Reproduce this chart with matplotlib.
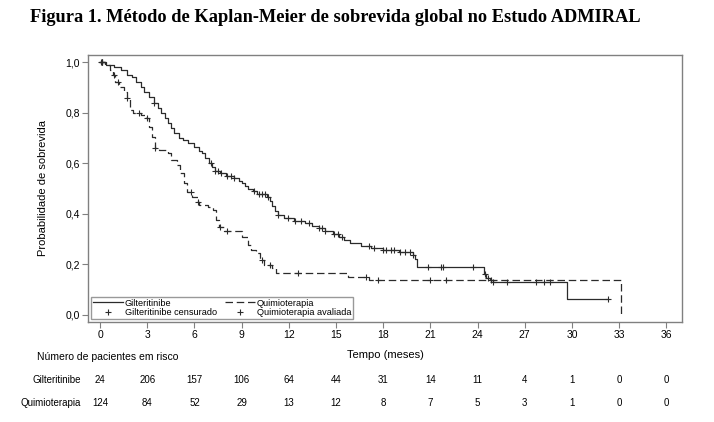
import numpy as np
import matplotlib
matplotlib.use("Agg")
import matplotlib.pyplot as plt
from matplotlib.lines import Line2D
from matplotlib.transforms import blended_transform_factory
from matplotlib.ticker import FuncFormatter

# Gilteritinibe: step times (months) and survival after each step
gilt_t = [0, 0.4, 0.9, 1.3, 1.7, 2.0, 2.3, 2.6, 2.8, 3.1, 3.4, 3.7, 3.9, 4.1, 4.3, 4.5,
          4.7, 5.0, 5.3, 5.6, 6.0, 6.3, 6.5, 6.7, 6.9, 7.1, 7.3, 7.6, 8.0, 8.5, 8.8, 9.0,
          9.2, 9.4, 9.7, 10.0, 10.6, 10.8, 10.95, 11.1, 11.3, 11.7, 12.3, 13.0, 13.5, 13.9,
          14.3, 14.8, 15.2, 15.5, 15.9, 16.6, 17.2, 18.0, 19.0, 19.9, 20.0, 20.15, 24.4,
          24.55, 24.8, 25.0, 29.7, 32.3]
gilt_s = [1.0, 0.99, 0.98, 0.97, 0.95, 0.94, 0.92, 0.90, 0.88, 0.86, 0.84, 0.82, 0.80, 0.78,
          0.76, 0.74, 0.72, 0.70, 0.69, 0.68, 0.665, 0.65, 0.64, 0.62, 0.60, 0.585, 0.57, 0.56,
          0.55, 0.54, 0.53, 0.52, 0.51, 0.50, 0.49, 0.48, 0.465, 0.45, 0.43, 0.41, 0.395, 0.383,
          0.372, 0.363, 0.352, 0.343, 0.332, 0.32, 0.31, 0.295, 0.283, 0.272, 0.265, 0.257,
          0.248, 0.238, 0.22, 0.19, 0.16, 0.145, 0.137, 0.132, 0.063, 0.063]
gilt_cens = [0.05, 0.1, 0.15, 3.4, 7.05, 7.3, 7.5, 7.7, 8.1, 8.3, 8.5, 9.8, 10.1, 10.3, 10.5,
             10.7, 11.3, 11.95, 12.4, 12.8, 13.3, 13.9, 14.1, 14.3, 14.9, 15.1, 15.4, 17.1,
             17.4, 18.0, 18.2, 18.5, 18.7, 19.1, 19.4, 19.7, 19.9, 20.85, 21.7, 21.8, 23.7,
             24.5, 24.65, 24.85, 25.0, 25.9, 27.7, 28.2, 28.6, 32.3]

# Quimioterapia
quim_t = [0, 0.3, 0.6, 0.8, 0.95, 1.2, 1.5, 1.7, 1.9, 2.1, 2.6, 2.9, 3.1, 3.3, 3.5, 3.75,
          4.3, 4.5, 4.9, 5.1, 5.35, 5.55, 5.85, 6.2, 6.3, 6.85, 7.15, 7.35, 7.55, 7.85, 9.05,
          9.4, 9.6, 9.9, 10.15, 10.45, 10.9, 11.2, 15.75, 17.1, 33.1]
quim_s = [1.0, 0.99, 0.97, 0.95, 0.92, 0.90, 0.88, 0.856, 0.81, 0.80, 0.79, 0.777, 0.744,
          0.705, 0.66, 0.652, 0.639, 0.613, 0.593, 0.561, 0.52, 0.487, 0.468, 0.448, 0.435,
          0.428, 0.415, 0.375, 0.349, 0.33, 0.31, 0.277, 0.257, 0.244, 0.217, 0.198, 0.185,
          0.165, 0.15, 0.137, 0.0]
quim_cens = [0.1, 0.9, 1.15, 1.7, 2.45, 3.0, 3.5, 5.8, 6.2, 7.6, 8.1, 10.3, 10.8, 12.6,
             16.9, 17.65, 20.95, 22.0]

# Risk table
risk_times = [0, 3, 6, 9, 12, 15, 18, 21, 24, 27, 30, 33, 36]
risk_gilt = ["24", "206", "157", "106", "64", "44", "31", "14", "11", "4", "1", "0", "0"]
risk_quim = ["124", "84", "52", "29", "13", "12", "8", "7", "5", "3", "1", "0", "0"]

plt.rcParams["font.family"] = ["Liberation Sans", "DejaVu Sans"]

fig = plt.figure(figsize=(7.14, 4.22), dpi=100)
ax = fig.add_axes([88 / 714, 1 - 322 / 422, (682 - 88) / 714, (322 - 55) / 422])

line_col = "#2b2b2b"


def surv_at(t, times, surv):
    idx = np.searchsorted(times, t, side="right") - 1
    return np.array(surv)[idx]


ax.step(gilt_t, gilt_s, where="post", color=line_col, lw=0.9)
ax.step(quim_t, quim_s, where="post", color=line_col, lw=0.9, linestyle=(0, (6, 3)))
ax.plot(gilt_cens, surv_at(gilt_cens, gilt_t, gilt_s), "+", color=line_col, ms=5, mew=0.8)
ax.plot(quim_cens, surv_at(quim_cens, quim_t, quim_s), "+", color=line_col, ms=5, mew=0.8)

ax.set_xlim(-0.77, 37.0)
ax.set_ylim(-0.028, 1.028)
ax.set_xticks(risk_times)
ax.set_yticks(np.arange(0, 1.01, 0.2))
ax.yaxis.set_major_formatter(FuncFormatter(lambda v, p: f"{v:.1f}".replace(".", ",")))
for s in ax.spines.values():
    s.set_color("#808080")
    s.set_linewidth(1.0)
ax.tick_params(length=4, width=0.8, color="#808080", labelsize=7.5, pad=2)
ax.set_xlabel("Tempo (meses)", fontsize=8, labelpad=7)
ax.set_ylabel("Probabilidade de sobrevida", fontsize=8, labelpad=12)

handles = [Line2D([], [], color=line_col, lw=0.9),
           Line2D([], [], color=line_col, lw=0, marker="+", ms=5, mew=0.8),
           Line2D([], [], color=line_col, lw=0.9, linestyle=(0, (6, 3))),
           Line2D([], [], color=line_col, lw=0, marker="+", ms=5, mew=0.8)]
labels = ["Gilteritinibe", "Gilteritinibe censurado", "Quimioterapia", "Quimioterapia avaliada"]
leg = ax.legend(handles, labels, ncol=2, loc="lower left", fontsize=6.6, frameon=True,
                fancybox=False, borderaxespad=0.3, handlelength=3.3, handletextpad=0.2,
                columnspacing=0.9, labelspacing=0.1, borderpad=0.2)
leg.get_frame().set_edgecolor("#808080")
leg.get_frame().set_linewidth(1.0)

trans = blended_transform_factory(ax.transData, fig.transFigure)
fig.text(37 / 714, 1 - 357 / 422, "Número de pacientes em risco", fontsize=7.5, va="center")
fig.text(81 / 714, 1 - 380 / 422, "Gilteritinibe", fontsize=7, va="center", ha="right")
fig.text(81 / 714, 1 - 403 / 422, "Quimioterapia", fontsize=7, va="center", ha="right")
for t, g, q in zip(risk_times, risk_gilt, risk_quim):
    ax.text(t, 1 - 380 / 422, g, transform=trans, ha="center", va="center", fontsize=7)
    ax.text(t, 1 - 403 / 422, q, transform=trans, ha="center", va="center", fontsize=7)

fig.text(30 / 714, 1 - 18 / 422,
         "Figura 1. Método de Kaplan-Meier de sobrevida global no Estudo ADMIRAL",
         family="Liberation Serif", fontweight="bold", fontsize=13.2, va="center")

fig.savefig("out.png", dpi=100)
